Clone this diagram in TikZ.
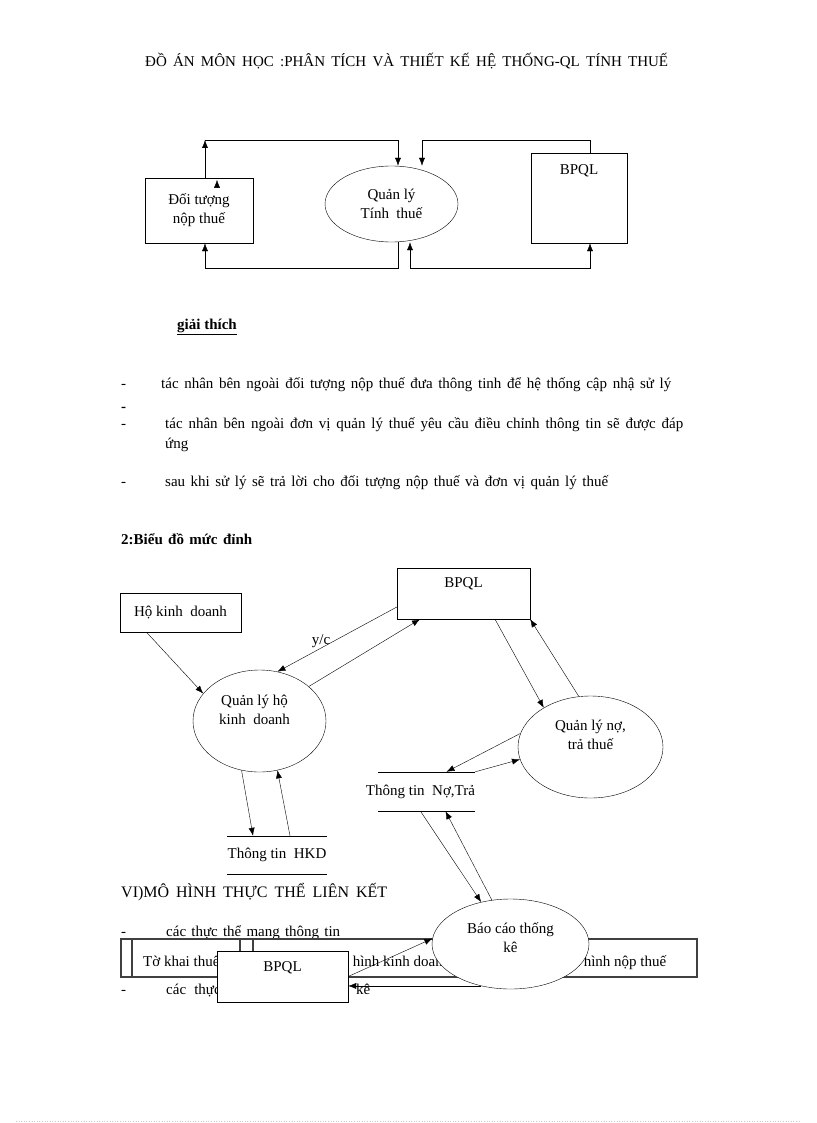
\documentclass[tikz,border=0pt]{standalone}
\usepackage{fontspec}
\setmainfont{Liberation Serif}
\usetikzlibrary{shapes.geometric}
\usetikzlibrary{shadows}
\usetikzlibrary{arrows.meta}
\pgfdeclarelayer{textlayer}
\pgfdeclarelayer{edgelayer}
\pgfdeclarelayer{nodelayer}
\pgfsetlayers{textlayer,edgelayer,nodelayer,main}
\tikzstyle{every node}=[font=\fontsize{15}{19}\selectfont]
\tikzstyle{entity}=[rectangle,fill=white,draw=black,align=center]
\tikzstyle{process}=[ellipse,fill=white,draw=black,inner sep=0pt,align=center]
\tikzstyle{store}=[rectangle,inner sep=0pt]
\tikzstyle{txt}=[anchor=base west,inner sep=0pt]
\tikzstyle{flow}=[-{Latex[length=8pt,width=6pt]},draw=black]
\tikzstyle{twoway}=[{Latex[length=8pt,width=6pt]}-{Latex[length=8pt,width=6pt]},draw=black]
\newcommand{\spread}[2]{\makebox[#1][s]{#2}}

\begin{document}
\begin{tikzpicture}[x=1pt,y=-1pt,line width=0.9pt]
	\useasboundingbox (0,0) rectangle (816,1123);
	\begin{pgfonlayer}{textlayer}
		\node [style=txt] (20) at (145, 67) {\spread{523pt}{ĐỒ ÁN MÔN HỌC :PHÂN TÍCH VÀ THIẾT KẾ HỆ THỐNG-QL TÍNH THUẾ}};
		\node [style=txt] (21) at (177, 329) {\textbf{\underline{giải thích}}};
		\node [style=txt] (22) at (121, 388) {-};
		\node [style=txt] (23) at (161, 388) {\spread{510pt}{tác nhân bên ngoài đối tượng nộp thuế đưa thông tinh để hệ thống cập nhậ sử lý}};
		\node [style=txt] (24) at (121, 411) {\textbf{-}};
		\node [style=txt] (25) at (121, 428) {-};
		\node [style=txt] (26) at (165, 428) {\spread{518pt}{tác nhân bên ngoài đơn vị quản lý thuế yêu cầu điều chỉnh thông tin sẽ được đáp}};
		\node [style=txt] (27) at (165, 448) {ứng};
		\node [style=txt] (28) at (121, 486) {-};
		\node [style=txt] (29) at (165, 486) {\spread{443pt}{sau khi sử lý sẽ trả lời cho đối tượng nộp thuế và đơn vị quản lý thuế}};
		\node [style=txt] (30) at (121, 544) {\textbf{\spread{131pt}{2:Biểu đồ mức đỉnh}}};
		\node [style=txt, font=\fontsize{16}{19}\selectfont] (31) at (121, 897) {\spread{266pt}{VI)MÔ HÌNH THỰC THỂ LIÊN KẾT}};
		\node [style=txt] (32) at (121, 936) {-};
		\node [style=txt] (33) at (166, 936) {\spread{174pt}{các thực thể mang thông tin}};
		\node [style=txt] (34) at (143, 966) {Tờ khai thuế};
		\node [style=txt] (35) at (263, 966) {Thông tin tình hình kinh doanh};
		\node [style=txt] (36) at (494, 966) {Thông tin tình hình nộp thuế};
		\node [style=txt] (37) at (121, 994) {-};
		\node [style=txt] (38) at (166, 994) {\spread{204pt}{các thực thể báo cáo thống kê}};
		% strip of entities
		\draw [line width=1.3pt, black!75] (121, 939) rectangle (697, 977);
		\draw [line width=1.3pt, black!75] (132, 939) -- (132, 977);
		\draw [line width=1.3pt, black!75] (240, 939) -- (240, 977);
		\draw [line width=1.3pt, black!75] (253, 939) -- (253, 977);
		\draw [gray!40, dotted, line width=0.6pt] (16, 1121) -- (800, 1121);
	\end{pgfonlayer}
	\begin{pgfonlayer}{nodelayer}
		\node [style=entity, minimum width=108, minimum height=65, drop shadow={shadow xshift=1.2pt, shadow yshift=-1.2pt, fill=black!60, opacity=1}] (0) at (199, 210.5) {Đối tượng\\nộp thuế};
		\node [style=process, minimum width=133, minimum height=76] (1) at (391.5, 204) {Quản lý\\Tính~ thuế};
		\node [style=entity, minimum width=96, minimum height=90, label={[anchor=north, inner sep=0pt, yshift=-12pt]north:BPQL}] (2) at (579, 198) {};
		\node [style=entity, minimum width=121, minimum height=39] (4) at (180.5, 612.5) {Hộ kinh~ doanh};
		\node [style=entity, minimum width=133, minimum height=51, label={[anchor=north, inner sep=0pt, yshift=-10pt]north:BPQL}] (5) at (463.5, 593.5) {};
		\node [style=process, minimum width=133, minimum height=102, label={[anchor=center, align=center, xshift=-5pt, yshift=11pt]center:Quản lý hộ\\kinh~ doanh}] (6) at (259.5, 721) {};
		\node [style=process, minimum width=145, minimum height=102, label={[anchor=center, align=center, yshift=12pt]center:Quản lý nợ,\\trả thuế}] (7) at (590.5, 747) {};
		\node [style=store, minimum width=98, minimum height=38] (8) at (277, 855) {Thông tin~ HKD};
		\node [style=store, minimum width=85, minimum height=39] (9) at (426.5, 791.5) {\hspace*{-12pt}Thông tin~ Nợ,Trả};
		\node [style=process, minimum width=157, minimum height=90, label={[anchor=center, align=center, yshift=6pt]center:Báo cáo thống\\kê}] (10) at (510.5, 944) {};
		\node [style=entity, minimum width=131, minimum height=51, label={[anchor=north, inner sep=0pt, yshift=-11pt]north:BPQL}] (11) at (282.5, 976.5) {};
		\node [style=txt, anchor=base] (3) at (321, 644) {y/c};
	\end{pgfonlayer}
	\begin{pgfonlayer}{edgelayer}
		\coordinate (c0) at (205, 140);
		\coordinate (c1) at (398, 140);
		\coordinate (c2) at (590, 140);
		\coordinate (c3) at (422, 140);
		\coordinate (c4) at (398, 268);
		\coordinate (c5) at (205, 268);
		\coordinate (c6) at (410, 268);
		\coordinate (c7) at (590, 268);
		\draw [style=flow] (c0 |- 0.north) -- (c0);
		\draw [style=flow] (c0) -- (c1) -- (c1 |- 1.north);
		\draw [style=flow] (c2 |- 2.north) -- (c2) -- (c3) -- (c3 |- 1.north);
		\draw [style=flow] (1.south -| c4) -- (c4) -- (c5) -- (c5 |- 0.south);
		\draw [style=twoway] (1.south -| c6) -- (c6) -- (c7) -- (c7 |- 2.south);
		\draw [style=flow] ([xshift=-34pt]4.south) to (6.154);
		\draw [style=flow] ([yshift=-13.5pt]5.west) to (6.70);
		\draw [style=flow] (6.35) to ([xshift=-43.5pt]5.south);
		\draw [style=flow] ([xshift=31.5pt]5.south) to (7.140);
		\draw [style=flow] (7.103) to (5.south east);
		\draw [style=flow] (7.169) to ([xshift=20pt]9.north);
		\draw [style=flow] (9.north east) to (7.190);
		\draw (9.north west) -- (9.north east);
		\draw (9.south west) -- (9.south east);
		\draw (8.north west) -- (8.north east);
		\draw (8.south west) -- (8.south east);
		\draw [style=flow] (6.250) to ([xshift=-24pt]8.north);
		\draw [style=flow] ([xshift=13pt]8.north) to (6.290);
		\draw [style=flow] ([xshift=-6pt]9.south) to (10.125);
		\draw [style=flow] (10.113) to ([xshift=19pt]9.south);
		\draw [style=flow] (11.east) to (10.176);
		\draw [style=flow] (10.235) to (10.235 -| 11.east);
	\end{pgfonlayer}
	\draw [style=flow] ([xshift=18pt, yshift=-8pt]0.north) -- ([xshift=18pt, yshift=-2pt]0.north);
\end{tikzpicture}
\end{document}
